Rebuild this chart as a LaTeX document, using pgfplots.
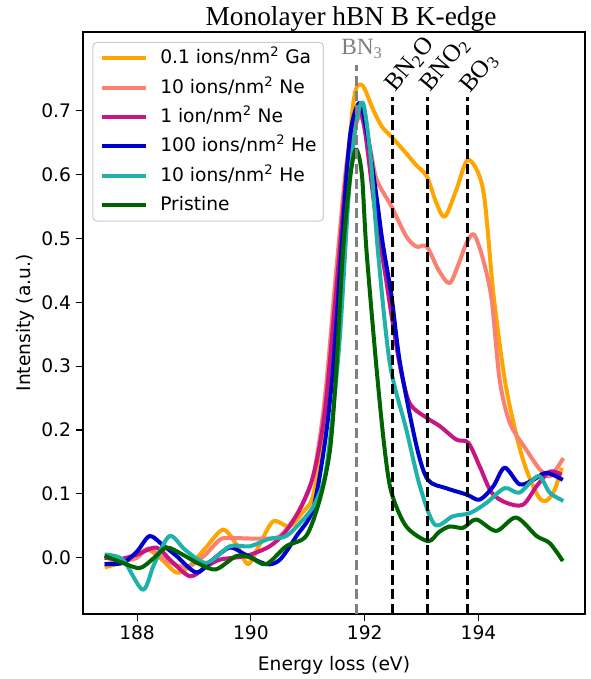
\documentclass[border=0pt]{standalone}
\usepackage{pgfplots}
\pgfplotsset{compat=1.18}
\usepackage{fontspec}
\setmainfont{DejaVu Sans}
\newfontfamily\serif{Liberation Serif}

\definecolor{cGa}{RGB}{255,165,0}
\definecolor{cNeTen}{RGB}{250,128,114}
\definecolor{cNeOne}{RGB}{199,21,133}
\definecolor{cHeHund}{RGB}{0,0,205}
\definecolor{cHeTen}{RGB}{32,178,170}
\definecolor{cPris}{RGB}{0,100,0}
\newcommand\fs{\fontsize{14pt}{17pt}\selectfont}
\newcommand\lab{\serif\fontsize{17.5pt}{20pt}\selectfont}
\newcommand\rlab{\serif\fontsize{18.5pt}{21pt}\selectfont}

\begin{document}
\begin{tikzpicture}
\useasboundingbox (-62.25pt,-48.75pt) rectangle (381pt,460.5pt);
\begin{axis}[
    scale only axis,
    width=376.5pt, height=436.5pt,
    xmin=187.05, xmax=195.87,
    ymin=-0.088, ymax=0.823,
    clip=false,
    axis line style={line width=0.8pt},
    tick align=outside, tick pos=left,
    major tick length=5.5pt,
    every tick/.style={black, line width=0.8pt},
    xtick={188,190,192,194},
    ytick={0,0.1,0.2,0.3,0.4,0.5,0.6,0.7},
    ticklabel style={font=\fs},
    /pgf/number format/assume math mode=true,
    yticklabel style={/pgf/number format/.cd, fixed, fixed zerofill, precision=1},
    label style={font=\fs},
    xlabel={Energy loss (eV)},
    ylabel={Intensity (a.u.)},
    xlabel style={at={(axis description cs:0.5,-0.0969)}, anchor=base},
    ylabel style={at={(axis description cs:-0.1052,0.5)}, anchor=base},
    legend cell align=left,
    legend style={at={(axis description cs:0.0187,0.983)}, anchor=north west,
        draw=black!20, rounded corners=3pt, line width=0.8pt, font=\fs,
        inner xsep=5pt, inner ysep=5pt, row sep=8pt, column sep=9.5pt,
        nodes={inner sep=0pt, text height=11pt, text depth=3pt}},
    legend image code/.code={\draw[#1] (0pt,0pt) -- (33pt,0pt);},
    every axis plot/.append style={line width=3pt, line join=round, smooth},
]

\addplot[cGa] coordinates {
(187.43,-0.015) (187.75,-0.007) (187.95,0.0) (188.17,0.013) (188.4,0.0)
(188.69,-0.023) (188.9,-0.015) (189.2,0.015) (189.51,0.044) (189.75,0.02)
(189.95,-0.010) (190.15,0.02) (190.39,0.057) (190.68,0.049) (190.9,0.07)
(191.09,0.096) (191.25,0.18) (191.42,0.30) (191.6,0.50) (191.8,0.712)
(191.95,0.74) (192.15,0.701) (192.3,0.675) (192.47,0.659) (192.73,0.633)
(192.9,0.615) (193.09,0.597) (193.26,0.555) (193.41,0.534) (193.61,0.576)
(193.82,0.623) (194.08,0.576) (194.26,0.414) (194.46,0.279) (194.67,0.190)
(194.84,0.138) (195.05,0.096) (195.19,0.089) (195.34,0.107) (195.46,0.141)
};
\addlegendentry{0.1 ions/nm\textsuperscript{2} Ga}

\addplot[cNeTen] coordinates {
(187.43,-0.01) (187.75,-0.005) (188.0,0.0) (188.2,0.015) (188.45,0.0)
(188.7,-0.012) (188.93,-0.013) (189.2,0.005) (189.45,0.028) (189.63,0.031)
(190.16,0.030) (190.51,0.034) (190.86,0.076) (191.1,0.13) (191.3,0.25)
(191.5,0.45) (191.7,0.63) (191.9,0.69) (192.0,0.675) (192.09,0.644)
(192.21,0.592) (192.47,0.550) (192.73,0.503) (192.91,0.487) (193.09,0.487)
(193.3,0.45) (193.49,0.430) (193.65,0.46) (193.79,0.493) (193.92,0.506)
(194.08,0.467) (194.23,0.404) (194.37,0.279) (194.55,0.211) (194.84,0.169)
(195.08,0.138) (195.26,0.128) (195.49,0.156)
};
\addlegendentry{10 ions/nm\textsuperscript{2} Ne}

\addplot[cNeOne] coordinates {
(187.43,0.0) (187.7,-0.002) (188.0,0.005) (188.34,0.016) (188.6,-0.005)
(188.93,-0.029) (189.2,-0.015) (189.45,-0.003) (189.92,0.003) (190.33,0.018)
(190.6,0.04) (190.86,0.076) (191.1,0.13) (191.3,0.23) (191.5,0.42)
(191.7,0.62) (191.88,0.70) (192.0,0.67) (192.2,0.53) (192.35,0.45)
(192.47,0.38) (192.62,0.30) (192.79,0.242) (193.09,0.219) (193.32,0.206)
(193.61,0.185) (193.82,0.180) (194.02,0.143) (194.23,0.102) (194.49,0.086)
(194.78,0.083) (195.02,0.112) (195.25,0.135) (195.46,0.130)
};
\addlegendentry{1 ion/nm\textsuperscript{2} Ne}

\addplot[cHeHund] coordinates {
(187.43,-0.010) (187.75,-0.008) (188.0,0.01) (188.22,0.034) (188.45,0.02)
(188.69,0.003) (189.04,-0.023) (189.3,-0.005) (189.63,0.016) (189.9,0.005)
(190.27,-0.010) (190.51,-0.003) (190.80,0.034) (191.09,0.076) (191.3,0.18)
(191.44,0.294) (191.59,0.482) (191.74,0.659) (191.91,0.712) (192.05,0.66)
(192.2,0.57) (192.32,0.49) (192.47,0.41) (192.62,0.305) (192.91,0.175)
(193.11,0.122) (193.43,0.109) (193.79,0.099) (194.02,0.091) (194.26,0.112)
(194.46,0.141) (194.72,0.115) (194.96,0.122) (195.19,0.133) (195.48,0.122)
};
\addlegendentry{100 ions/nm\textsuperscript{2} He}

\addplot[cHeTen] coordinates {
(187.43,0.005) (187.75,-0.003) (188.10,-0.050) (188.3,-0.01) (188.57,0.034)
(188.85,0.012) (189.22,-0.008) (189.63,0.018) (189.98,0.018) (190.33,0.030)
(190.62,0.034) (190.97,0.065) (191.15,0.09) (191.33,0.143) (191.55,0.33)
(191.72,0.57) (191.85,0.68) (191.97,0.712) (192.1,0.63) (192.23,0.482)
(192.44,0.305) (192.73,0.201) (192.97,0.112) (193.23,0.052) (193.55,0.065)
(193.85,0.070) (194.14,0.086) (194.46,0.109) (194.72,0.102) (195.05,0.128)
(195.25,0.102) (195.49,0.089)
};
\addlegendentry{10 ions/nm\textsuperscript{2} He}

\addplot[cPris] coordinates {
(187.43,0.003) (187.75,-0.008) (188.05,-0.016) (188.3,0.0) (188.52,0.016)
(188.8,0.005) (189.1,-0.01) (189.39,-0.018) (189.75,0.003) (190.0,0.0)
(190.27,-0.010) (190.62,0.018) (190.97,0.034) (191.21,0.091) (191.39,0.169)
(191.50,0.294) (191.62,0.482) (191.75,0.60) (191.85,0.639) (191.95,0.60)
(192.03,0.482) (192.21,0.294) (192.35,0.17) (192.47,0.102) (192.73,0.049)
(193.11,0.026) (193.3,0.04) (193.49,0.049) (193.73,0.047) (193.96,0.060)
(194.31,0.042) (194.66,0.063) (195.02,0.034) (195.25,0.023) (195.48,-0.005)
};
\addlegendentry{Pristine}

% reference lines
\addplot[gray, line width=2.25pt, dash pattern=on 7.5pt off 3.5pt, sharp plot, forget plot]
  coordinates {(191.86,-0.088) (191.86,0.771)};
\addplot[black, line width=2.25pt, dash pattern=on 7.5pt off 3.5pt, sharp plot, forget plot]
  coordinates {(192.48,-0.088) (192.48,0.722)};
\addplot[black, line width=2.25pt, dash pattern=on 7.5pt off 3.5pt, sharp plot, forget plot]
  coordinates {(193.11,-0.088) (193.11,0.722)};
\addplot[black, line width=2.25pt, dash pattern=on 7.5pt off 3.5pt, sharp plot, forget plot]
  coordinates {(193.81,-0.088) (193.81,0.722)};

\node[anchor=base, text=gray, font=\lab]
  at (axis cs:191.95,0.787) {BN\textsubscript{3}};
\coordinate (l1) at (axis cs:192.58,0.7246);
\coordinate (l2) at (axis cs:193.20,0.7246);
\coordinate (l3) at (axis cs:193.90,0.722);

\node[anchor=base, font=\serif\fontsize{20.5pt}{24pt}\selectfont]
  at (axis description cs:0.534,1.012) {Monolayer hBN B K-edge};
\end{axis}
\node[rotate=50, anchor=south west, inner sep=0pt, font=\rlab] at (l1) {BN\textsubscript{2}O};
\node[rotate=50, anchor=south west, inner sep=0pt, font=\rlab] at (l2) {BNO\textsubscript{2}};
\node[rotate=50, anchor=south west, inner sep=0pt, font=\rlab] at (l3) {BO\textsubscript{3}};
\end{tikzpicture}
\end{document}
